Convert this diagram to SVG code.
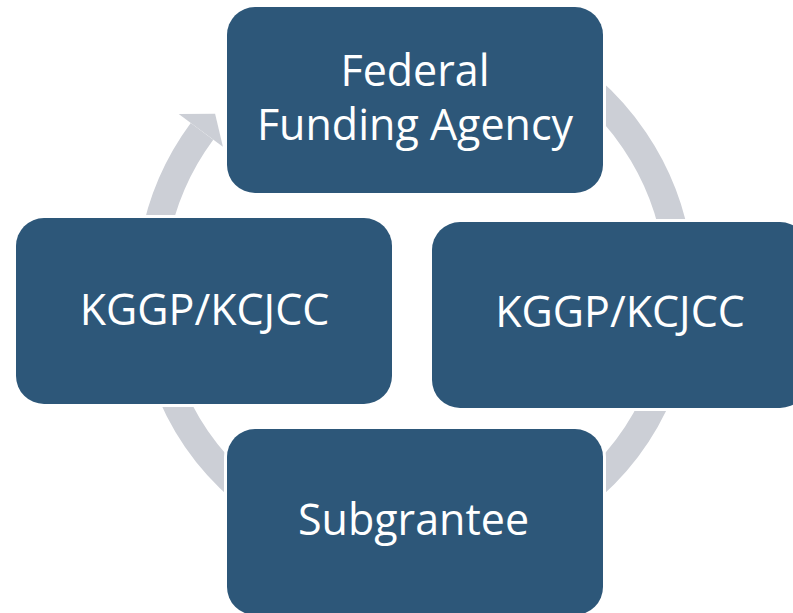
<svg xmlns="http://www.w3.org/2000/svg" width="793" height="613" viewBox="0 0 793 613">
  <style>
    .box { fill: #2D5779; stroke: #FFFFFF; stroke-width: 6; paint-order: stroke; }
    .label { font-family: "Open Sans", "Noto Sans", "DejaVu Sans", sans-serif; font-size: 43px; fill: #FFFFFF; text-anchor: middle; }
    .ring { fill: none; stroke: #CCCFD6; stroke-width: 28; stroke-linecap: butt; }
    .head { fill: #CCCFD6; }
  </style>
  <rect width="793" height="613" fill="#FFFFFF"/>
  <g id="connectors">
    <path class="ring" d="M 282.5 59.5 A 265 265 0 1 1 202.0 131.4"/>
    <polygon class="head" points="178.7,114.1 215.1,113.7 222.9,146.8"/>
  </g>
  <g id="node-federal">
    <rect class="box" x="227" y="7" width="376" height="186" rx="28" ry="28"/>
    <text class="label" x="415" y="86">Federal</text>
    <text class="label" x="415" y="139.5">Funding Agency</text>
  </g>
  <g id="node-kggp-left">
    <rect class="box" x="16" y="218" width="376" height="186" rx="28" ry="28"/>
    <text class="label" x="204.5" y="325">KGGP/KCJCC</text>
  </g>
  <g id="node-kggp-right">
    <rect class="box" x="432" y="222" width="376" height="186" rx="28" ry="28"/>
    <text class="label" x="620" y="327">KGGP/KCJCC</text>
  </g>
  <g id="node-subgrantee">
    <rect class="box" x="227" y="429" width="376" height="186" rx="28" ry="28"/>
    <text class="label" x="413.5" y="535">Subgrantee</text>
  </g>
</svg>
